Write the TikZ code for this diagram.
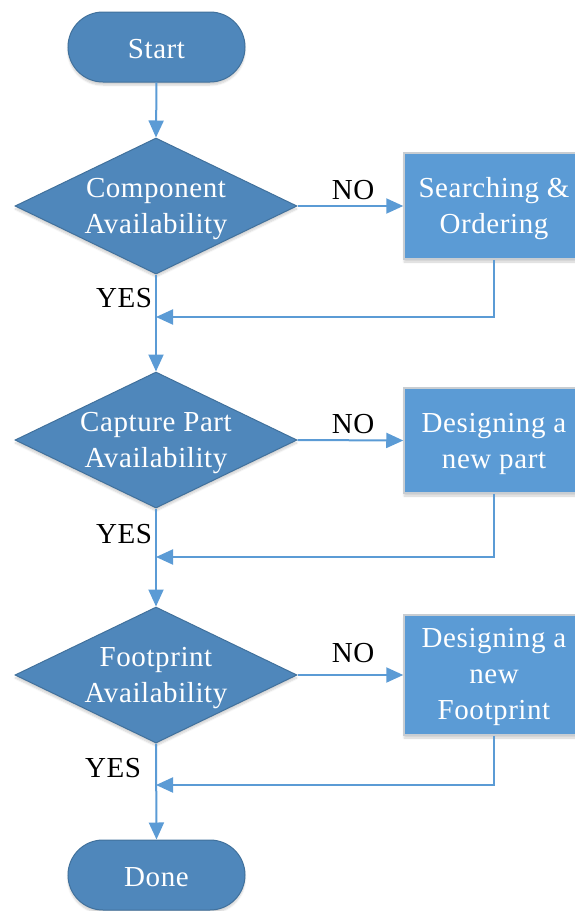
\documentclass[tikz,border=0pt]{standalone}
\usepackage{fontspec}
\setmainfont{Liberation Serif}[LetterSpace=2]
\usetikzlibrary{shapes.geometric,shapes.misc,arrows.meta,shadows.blur}
\definecolor{termfill}{HTML}{4F87BB}
\definecolor{termline}{HTML}{41719C}
\definecolor{procfill}{HTML}{5B9BD5}
\definecolor{procline}{HTML}{C8CDD2}
\definecolor{flowline}{HTML}{5B9BD5}
\tikzset{
  softshadow/.style={blur shadow={shadow xshift=0pt, shadow yshift=-3pt, shadow blur steps=6, shadow opacity=18}},
  terminal/.style={rounded rectangle, fill=termfill, draw=termline, line width=1pt,
    minimum width=177pt, minimum height=70pt, inner sep=0pt, softshadow},
  decision/.style={diamond, fill=termfill, draw=termline, line width=1pt,
    minimum width=282pt, minimum height=136pt, inner sep=0pt, softshadow},
  process/.style={rectangle, fill=procfill, draw=procline, line width=1.5pt,
    minimum width=180pt, inner sep=0pt, softshadow},
  wtext/.style={text=white, align=center, font=\fontsize{29}{36}\selectfont, inner sep=0pt},
  btext/.style={text=black, font=\fontsize{29}{36}\selectfont, inner sep=0pt},
  flow/.style={draw=flowline, line width=2pt, -{Triangle[length=17pt,width=15pt]}},
}
\begin{document}
\begin{tikzpicture}[x=1pt,y=-1pt]
\useasboundingbox (0,0) rectangle (574,911);

% main column
\node[terminal] (start) at (156.5,47) {};
\node[wtext] (ts) at ([yshift=-2pt]start.center) {Start};
\node[decision] (d1) at (156,206) {};
\node[wtext] (t1) at ([yshift=-3pt]d1.center) {Component\\Availability};
\node[decision] (d2) at (156,440) {};
\node[wtext] (t2) at ([yshift=-3pt]d2.center) {Capture Part\\Availability};
\node[decision] (d3) at (156,675) {};
\node[wtext] (t3) at ([yshift=-3pt]d3.center) {Footprint\\Availability};
\node[terminal] (done) at (156.5,875) {};
\node[wtext] (td) at ([yshift=-2pt]done.center) {Done};

% side tasks
\node[process, minimum height=106pt] (b1) at (494,206) {};
\node[wtext] (tb1) at ([yshift=-3pt]b1.center) {Searching \&\\Ordering};
\node[process, minimum height=105pt] (b2) at (494,440.5) {};
\node[wtext] (tb2) at ([yshift=-3pt]b2.center) {Designing a\\new part};
\node[process, minimum height=120pt] (b3) at (494,675) {};
\node[wtext] (tb3) at ([yshift=-2pt]b3.center) {Designing a\\new\\Footprint};

% merge points on the main column
\coordinate (m1) at (156,317);
\coordinate (m2) at (156,557);
\coordinate (m3) at (156,785);

% main flow
\draw[flow] (start.south) -- (d1.north);
\draw[flow] (d1.south) -- (d2.north);
\draw[flow] (d2.south) -- (d3.north);
\draw[flow] (d3.south) -- (done.north);

% NO branches
\draw[flow] (d1.east) -- (b1.west);
\draw[flow] (d2.east) -- (b2.west);
\draw[flow] (d3.east) -- (b3.west);

% returns
\draw[flow] (b1.south) -- (b1.south |- m1) -- (m1);
\draw[flow] (b2.south) -- (b2.south |- m2) -- (m2);
\draw[flow] (b3.south) -- (b3.south |- m3) -- (m3);

% labels
\node[btext] (no1) at (353,190) {NO};
\node[btext] (no2) at (353,424) {NO};
\node[btext] (no3) at (353,653) {NO};
\node[btext] (yes1) at (124,298) {YES};
\node[btext] (yes2) at (124,534) {YES};
\node[btext] (yes3) at (113,768) {YES};
\end{tikzpicture}
\end{document}
